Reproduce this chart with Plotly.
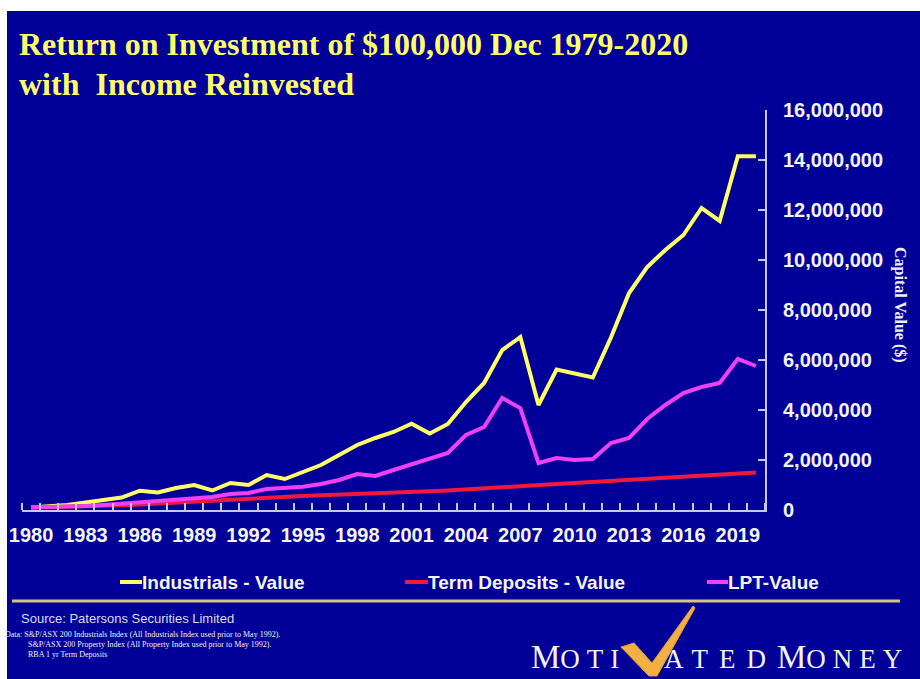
import plotly.graph_objects as go

# ---------------- data ----------------
years = list(range(1980, 2021))

industrials = [100000, 130000, 200000, 300000, 380000, 500000, 770000, 700000, 880000, 1000000,
               780000, 1080000, 1000000, 1400000, 1240000, 1520000, 1800000, 2200000, 2600000, 2880000,
               3120000, 3450000, 3060000, 3440000, 4320000, 5080000, 6400000, 6920000, 4200000, 5620000,
               5480000, 5300000, 6900000, 8680000, 9720000, 10400000, 11000000, 12080000, 11560000, 14150000,
               14150000]

term_deposits = [100000, 110000, 125000, 145000, 165000, 190000, 220000, 260000, 300000, 350000,
                 400000, 440000, 470000, 500000, 530000, 560000, 590000, 610000, 630000, 650000,
                 680000, 720000, 750000, 780000, 830000, 870000, 910000, 960000, 1000000, 1040000,
                 1080000, 1120000, 1180000, 1230000, 1280000, 1320000, 1360000, 1400000, 1430000, 1460000,
                 1500000]

lpt = [100000, 110000, 130000, 160000, 200000, 250000, 300000, 330000, 380000, 450000,
       520000, 640000, 680000, 840000, 880000, 930000, 1040000, 1200000, 1440000, 1360000,
       1600000, 1840000, 2070000, 2280000, 3000000, 3320000, 4480000, 4080000, 1880000, 2080000,
       2000000, 2040000, 2680000, 2880000, 3640000, 4200000, 4680000, 4920000, 5080000, 6040000,
       5760000]

series_names = ["Industrials - Value", "Term Deposits - Value", "LPT-Value"]
x_tick_labels = [str(y) for y in range(1980, 2020, 3)]
y_ticks = list(range(0, 16000001, 2000000))

title_line1 = "Return on Investment of $100,000 Dec 1979-2020"
title_line2 = "with  Income Reinvested"
y_title = "Capital Value ($)"
source_text = "Source: Patersons Securities Limited"
data_lines = ["Data: S&P/ASX 200 Industrials Index (All Industrials Index used prior to May 1992).",
              "S&P/ASX 200 Property Index (All Property Index used prior to May 1992).",
              "RBA 1 yr Term Deposits"]

# ---------------- layout geometry ----------------
W, H = 920, 679
ML, MR, MT, MB = 22, 155, 110, 169
PW = W - ML - MR
PH = H - MT - MB


def px(x):
    return (x - ML) / PW


def py(y):
    return (MT + PH - y) / PH


BG = "#000099"
AXIS = "#c8c8f4"
YELLOW = "#ffff66"
RED = "#f0183c"
MAGENTA = "#f040f4"
colors = [YELLOW, RED, MAGENTA]

fig = go.Figure()
for name, vals, col in zip(series_names, [industrials, term_deposits, lpt], colors):
    fig.add_trace(go.Scatter(x=years, y=vals, name=name, mode="lines",
                             line=dict(color=col, width=4), showlegend=False))

minor_vals = [y - 0.5 for y in years] + [years[-1] + 0.5]

fig.update_xaxes(
    range=[years[0] - 0.5, years[-1] + 0.5], automargin=False,
    tickmode="array", tickvals=[int(t) for t in x_tick_labels], ticktext=x_tick_labels,
    ticks="", showline=True, linecolor=AXIS, linewidth=2, showgrid=False, zeroline=False,
    tickfont=dict(family="Liberation Sans, Arial", size=20, color="#f4f4f4", weight="bold"),
    ticklabelstandoff=6,
    minor=dict(tickmode="array", tickvals=minor_vals, ticks="inside", ticklen=7,
               tickcolor=AXIS, tickwidth=2, showgrid=False),
)
fig.update_yaxes(
    side="right", range=[0, 16000000], automargin=False, tickmode="array", tickvals=y_ticks,
    tickformat=",d", ticks="inside", ticklen=7, tickcolor=AXIS, tickwidth=2,
    showline=True, linecolor=AXIS, linewidth=2, showgrid=False, zeroline=False,
    tickfont=dict(family="Liberation Sans, Arial", size=20, color="#f4f4f4", weight="bold"),
    ticklabelstandoff=12,
)

# legend drawn as line samples + labels
legend_line_x = [(120, 142), (405, 428), (707, 728)]
legend_y = 582

shapes = [
    # white slide border (top and left)
    dict(type="rect", xref="paper", yref="paper", x0=px(0), x1=px(W), y0=py(11), y1=py(0),
         fillcolor="white", line=dict(width=0), layer="above"),
    dict(type="rect", xref="paper", yref="paper", x0=px(0), x1=px(7), y0=py(H), y1=py(0),
         fillcolor="white", line=dict(width=0), layer="above"),
    # gold separator
    dict(type="line", xref="paper", yref="paper", x0=px(12), x1=px(900), y0=py(601), y1=py(601),
         line=dict(color="#d8c47e", width=3)),
    # check mark of the logo
    dict(type="path", xref="paper", yref="paper",
         path="M {},{} L {},{} L {},{} L {},{} L {},{} L {},{} L {},{} Z".format(
             px(621), py(647), px(634), py(643), px(652), py(663), px(693), py(606),
             px(695), py(608), px(657), py(676), px(649), py(676)),
         fillcolor="#f2b042", line=dict(color="#e89a30", width=1)),
]
for (x0, x1), col in zip(legend_line_x, colors):
    shapes.append(dict(type="line", xref="paper", yref="paper", x0=px(x0), x1=px(x1),
                       y0=py(legend_y), y1=py(legend_y), line=dict(color=col, width=4)))

serif = "Liberation Serif, Times New Roman"
sans = "Liberation Sans, Arial"
annotations = [
    dict(text=title_line1, x=px(17), y=py(44), xanchor="left", yanchor="middle",
         font=dict(family=serif, size=32, color=YELLOW, weight="bold")),
    dict(text=title_line2, x=px(17), y=py(84), xanchor="left", yanchor="middle",
         font=dict(family=serif, size=32, color=YELLOW, weight="bold")),
    dict(text=y_title, x=px(900), y=py(305), xanchor="center", yanchor="middle", textangle=90,
         font=dict(family=serif, size=16, color="#f0f0f0", weight="bold")),
    dict(text=source_text, x=px(19), y=py(618), xanchor="left", yanchor="middle",
         font=dict(family=sans, size=13, color="#dcdcec")),
    dict(text=data_lines[0], x=px(3), y=py(634), xanchor="left", yanchor="middle",
         font=dict(family=serif, size=8, color="#f0f0f0")),
    dict(text=data_lines[1], x=px(26), y=py(644), xanchor="left", yanchor="middle",
         font=dict(family=serif, size=8, color="#f0f0f0")),
    dict(text=data_lines[2], x=px(26), y=py(654), xanchor="left", yanchor="middle",
         font=dict(family=serif, size=8, color="#f0f0f0")),
    dict(text="M<span style='font-size:27px;letter-spacing:7px'>OTI</span>",
         x=px(529), y=py(657), xanchor="left", yanchor="middle",
         font=dict(family=serif, size=33, color="#f2f2f2")),
    dict(text="<span style='letter-spacing:11px'>ATED</span><span style='font-size:33px'>M</span>"
              "<span style='letter-spacing:7px'>ONEY</span>",
         x=px(662), y=py(657), xanchor="left", yanchor="middle",
         font=dict(family=serif, size=27, color="#f2f2f2")),
]
for (x0, x1), name in zip(legend_line_x, series_names):
    annotations.append(dict(text=name, x=px(x1 - 2), y=py(legend_y), xanchor="left", yanchor="middle",
                            font=dict(family=sans, size=19, color="#f4f4f4", weight="bold")))

fig.update_layout(
    width=W, height=H, margin=dict(l=ML, r=MR, t=MT, b=MB, pad=0, autoexpand=False),
    paper_bgcolor=BG, plot_bgcolor=BG,
    showlegend=False,
    shapes=shapes, annotations=annotations,
)
for a in fig.layout.annotations:
    a.update(xref="paper", yref="paper", showarrow=False)

fig.write_html("out.html")
